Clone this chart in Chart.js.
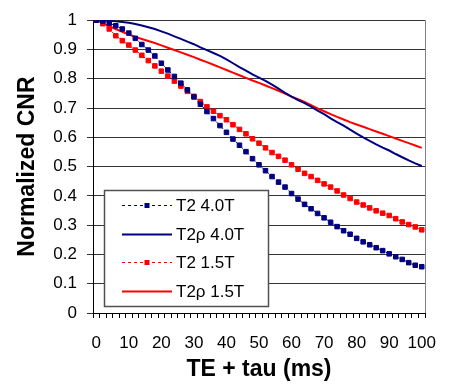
<!DOCTYPE html>
<html>
<head>
<meta charset="utf-8">
<script src="https://cdn.jsdelivr.net/npm/chart.js@4/dist/chart.umd.min.js"></script>
<style>
  body { margin: 0; background: #fff; }
  #wrap { width: 452px; height: 387px; }
</style>
</head>
<body>
<div id="wrap"><canvas id="cnr" width="452" height="387"></canvas></div>
<script>
// TE + tau (ms), one category every 2 ms
const tauLabels = ["0", "2", "4", "6", "8", "10", "12", "14", "16", "18", "20", "22", "24", "26", "28",
    "30", "32", "34", "36", "38", "40", "42", "44", "46", "48", "50", "52", "54", "56", "58",
    "60", "62", "64", "66", "68", "70", "72", "74", "76", "78", "80", "82", "84", "86", "88",
    "90", "92", "94", "96", "98", "100"]

const t2_40 = [1.000, 0.997, 0.990, 0.981, 0.970, 0.956, 0.938, 0.917, 0.898, 0.878,
    0.853, 0.830, 0.808, 0.785, 0.762, 0.738, 0.713, 0.688, 0.664, 0.640,
    0.617, 0.594, 0.573, 0.551, 0.527, 0.506, 0.486, 0.466, 0.447, 0.430,
    0.408, 0.389, 0.371, 0.356, 0.340, 0.325, 0.310, 0.295, 0.281, 0.269,
    0.255, 0.243, 0.233, 0.223, 0.213, 0.202, 0.192, 0.183, 0.172, 0.163, 0.158]

const t2rho_40 = [1.000, 0.999, 0.998, 0.996, 0.994, 0.991, 0.987, 0.982, 0.976, 0.970,
    0.962, 0.954, 0.945, 0.936, 0.927, 0.918, 0.907, 0.898, 0.888, 0.878,
    0.866, 0.853, 0.840, 0.828, 0.815, 0.804, 0.793, 0.780, 0.766, 0.752,
    0.739, 0.727, 0.717, 0.705, 0.691, 0.679, 0.665, 0.652, 0.640, 0.626,
    0.613, 0.600, 0.588, 0.576, 0.565, 0.555, 0.543, 0.532, 0.521, 0.511, 0.502]

const t2_15 = [1.000, 0.988, 0.970, 0.947, 0.930, 0.915, 0.898, 0.880, 0.862, 0.844,
    0.826, 0.809, 0.792, 0.775, 0.757, 0.740, 0.722, 0.704, 0.689, 0.674,
    0.660, 0.643, 0.627, 0.612, 0.595, 0.580, 0.564, 0.548, 0.535, 0.522,
    0.506, 0.491, 0.477, 0.466, 0.453, 0.441, 0.430, 0.417, 0.403, 0.391,
    0.379, 0.369, 0.359, 0.349, 0.341, 0.333, 0.322, 0.311, 0.302, 0.294, 0.284]

const t2rho_15 = [1.000, 0.990, 0.980, 0.970, 0.960, 0.951, 0.943, 0.936, 0.929, 0.922,
    0.914, 0.906, 0.898, 0.890, 0.882, 0.874, 0.865, 0.857, 0.848, 0.839,
    0.830, 0.821, 0.812, 0.803, 0.794, 0.786, 0.777, 0.768, 0.759, 0.749,
    0.739, 0.730, 0.721, 0.710, 0.699, 0.689, 0.679, 0.670, 0.661, 0.652,
    0.644, 0.636, 0.628, 0.620, 0.612, 0.604, 0.596, 0.588, 0.580, 0.572, 0.564]

const seriesNames = ["T2 4.0T", "T2\u03c1 4.0T", "T2 1.5T", "T2\u03c1 1.5T"]

const NAVY = "#000080"
const RED = "#ff0000"
const FONT = "'Liberation Sans', Arial, sans-serif"

function dotted(label, data, color) {
    return {
        label: label,
        data: data,
        borderColor: color,
        backgroundColor: color,
        borderWidth: 1,
        borderDash: [2, 2],
        pointStyle: "rect",
        pointRadius: 3.2,
        pointBorderWidth: 1,
        pointHoverRadius: 3.2,
        tension: 0
    }
}

function solid(label, data, color) {
    return {
        label: label,
        data: data,
        borderColor: color,
        backgroundColor: color,
        borderWidth: 2,
        pointRadius: 0,
        tension: 0
    }
}

// right edge of the plot + boxed legend inside the chart area
const boxLegend = {
    id: "boxLegend",
    afterDatasetsDraw(chart) {
        const {ctx, chartArea: {top, bottom, right}} = chart
        ctx.save()
        ctx.strokeStyle = "#808080"
        ctx.lineWidth = 1
        ctx.beginPath()
        ctx.moveTo(Math.round(right) + 0.5, top)
        ctx.lineTo(Math.round(right) + 0.5, bottom)
        ctx.stroke()

        const bx = 104, by = 190, bw = 164, bh = 116
        ctx.fillStyle = "#fff"
        ctx.fillRect(bx, by, bw, bh)
        ctx.strokeStyle = "#505050"
        ctx.lineWidth = 1.5
        ctx.strokeRect(bx + 0.5, by + 0.5, bw, bh)

        const rows = [205, 234, 262, 291]
        chart.data.datasets.forEach(function(ds, i) {
            const y = rows[i] + 0.5
            ctx.strokeStyle = ds.borderColor
            ctx.lineWidth = ds.borderWidth
            ctx.setLineDash(ds.pointRadius > 0 ? [3, 3] : [])
            ctx.beginPath()
            ctx.moveTo(122, y)
            ctx.lineTo(172, y)
            ctx.stroke()
            ctx.setLineDash([])
            if (ds.pointRadius > 0) {
                ctx.fillStyle = ds.borderColor
                ctx.fillRect(144.5, y - 2.5, 5, 5)
            }
            ctx.fillStyle = "#000"
            ctx.font = "17px " + FONT
            ctx.textBaseline = "middle"
            ctx.textAlign = "left"
            ctx.fillText(ds.label, 176, rows[i] + 1)
        })
        ctx.restore()
    }
}

const ctx = document.getElementById("cnr").getContext("2d")
const cnrChart = new Chart(ctx, {
    type: "line",
    data: {
        labels: tauLabels,
        datasets: [
            dotted(seriesNames[0], t2_40, NAVY),
            solid(seriesNames[1], t2rho_40, NAVY),
            dotted(seriesNames[2], t2_15, RED),
            solid(seriesNames[3], t2rho_15, RED)
        ]
    },
    options: {
        responsive: false,
        animation: false,
        devicePixelRatio: 1,
        layout: {
            padding: {left: 0, right: 27, top: 15, bottom: 0}
        },
        scales: {
            x: {
                type: "category",
                offset: true,
                grid: {
                    offset: true,
                    drawOnChartArea: false,
                    drawTicks: true,
                    tickLength: 5,
                    color: "#000"
                },
                border: {display: true, color: "#000", width: 1},
                ticks: {
                    autoSkip: false,
                    maxRotation: 0,
                    minRotation: 0,
                    padding: 15,
                    color: "#000",
                    font: {family: FONT, size: 17},
                    callback: function(value) {
                        const lab = this.getLabelForValue(value)
                        return Number(lab) % 10 === 0 ? lab : ""
                    }
                },
                title: {
                    display: true,
                    text: "TE + tau (ms)",
                    color: "#000",
                    font: {family: FONT, size: 23, weight: "bold"},
                    padding: {top: 0, bottom: 4}
                },
                afterFit: function(scale) { scale.height = 74 }
            },
            y: {
                min: 0,
                max: 1,
                ticks: {
                    stepSize: 0.1,
                    padding: 10,
                    color: "#000",
                    font: {family: FONT, size: 17},
                    callback: function(value) {
                        return String(Math.round(value * 10) / 10)
                    }
                },
                grid: {
                    color: "#333",
                    lineWidth: 1,
                    drawTicks: true,
                    tickLength: 6
                },
                border: {display: true, color: "#000", width: 1},
                title: {
                    display: true,
                    text: "Normalized CNR",
                    color: "#000",
                    font: {family: FONT, size: 23, weight: "bold"},
                    padding: {top: 14, bottom: 0}
                },
                afterFit: function(scale) { scale.width = 93 }
            }
        },
        plugins: {
            legend: {display: false},
            tooltip: {enabled: false}
        }
    },
    plugins: [boxLegend]
})
</script>
</body>
</html>
